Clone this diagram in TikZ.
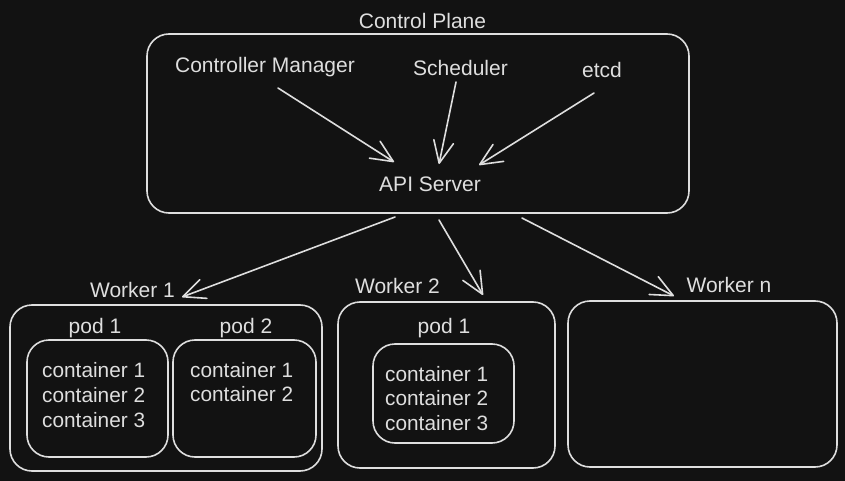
\documentclass[tikz,border=0pt]{standalone}
\usepackage{fontspec}
\setmainfont{Liberation Sans}
\usetikzlibrary{arrows.meta}
\definecolor{bg}{HTML}{121212}
\definecolor{ink}{HTML}{DEDEDE}
\begin{document}
\begin{tikzpicture}[x=1pt,y=-1pt,
  lbl/.style={text=ink,inner sep=0pt,anchor=base,font=\fontsize{21}{24}\selectfont},
  ctr/.style={text=ink,inner sep=0pt,anchor=base west,font=\fontsize{20.8}{24}\selectfont},
  frame/.style={draw=ink,line width=1.6pt,rounded corners=22pt,inner sep=0pt,rectangle},
  conn/.style={draw=ink,line width=1.6pt,line cap=round,-{Straight Barb[length=22pt,width=20pt,line width=1.6pt,round]}}]
\fill[bg] (0,0) rectangle (845,481);
\useasboundingbox (0,0) rectangle (845,481);
% boxes
\node[frame,minimum width=542pt,minimum height=179pt] (cp) at (418,123.5) {};
\node[frame,minimum width=312pt,minimum height=166pt] (w1) at (166,388) {};
\node[frame,minimum width=141pt,minimum height=117pt] (w1p1) at (97.5,398.5) {};
\node[frame,minimum width=143pt,minimum height=117pt] (w1p2) at (244.5,398.5) {};
\node[frame,minimum width=217pt,minimum height=166pt] (w2) at (446.5,385) {};
\node[frame,minimum width=141pt,minimum height=99pt] (w2p1) at (443.5,393.5) {};
\node[frame,minimum width=269pt,minimum height=166pt] (wn) at (702.5,384) {};
% labels
\node[lbl] (cpl) at (422.5,29) {Control Plane};
\node[lbl] (cm) at (265,73) {Controller Manager};
\node[lbl] (sch) at (460.5,76) {Scheduler};
\node[lbl] (etcd) at (602,78) {etcd};
\node[lbl] (api) at (430,191) {API Server};
\node[lbl] (w1l) at (132.5,297) {Worker 1};
\node[lbl] (w2l) at (397.5,293) {Worker 2};
\node[lbl] (wnl) at (729,292) {Worker n};
\node[lbl] (p1l) at (95,333) {pod 1};
\node[lbl] (p2l) at (246,333) {pod 2};
\node[lbl] (p3l) at (444,333) {pod 1};
% containers
\node[ctr] (c11) at (42,377) {container 1};
\node[ctr] (c12) at (42,402) {container 2};
\node[ctr] (c13) at (42,427) {container 3};
\node[ctr] (c21) at (190,377) {container 1};
\node[ctr] (c22) at (190,401) {container 2};
\node[ctr] (c31) at (385,381) {container 1};
\node[ctr] (c32) at (385,405) {container 2};
\node[ctr] (c33) at (385,430) {container 3};
% arrow end points
\coordinate (cmS) at (278,88);
\coordinate (cmE) at (394,162);
\coordinate (schS) at (456,82);
\coordinate (schE) at (439,164);
\coordinate (etS) at (594,93);
\coordinate (etE) at (479,165);
\coordinate (b1S) at (395,217);
\coordinate (b1E) at (182,297);
\coordinate (b2S) at (439,220);
\coordinate (b2E) at (483,295);
\coordinate (b3S) at (522,218);
\coordinate (b3E) at (674,296);
\draw[conn] (cmS) -- (cmE);
\draw[conn] (schS) -- (schE);
\draw[conn] (etS) -- (etE);
\draw[conn] (b1S) -- (b1E);
\draw[conn] (b2S) -- (b2E);
\draw[conn] (b3S) -- (b3E);
\end{tikzpicture}
\end{document}
